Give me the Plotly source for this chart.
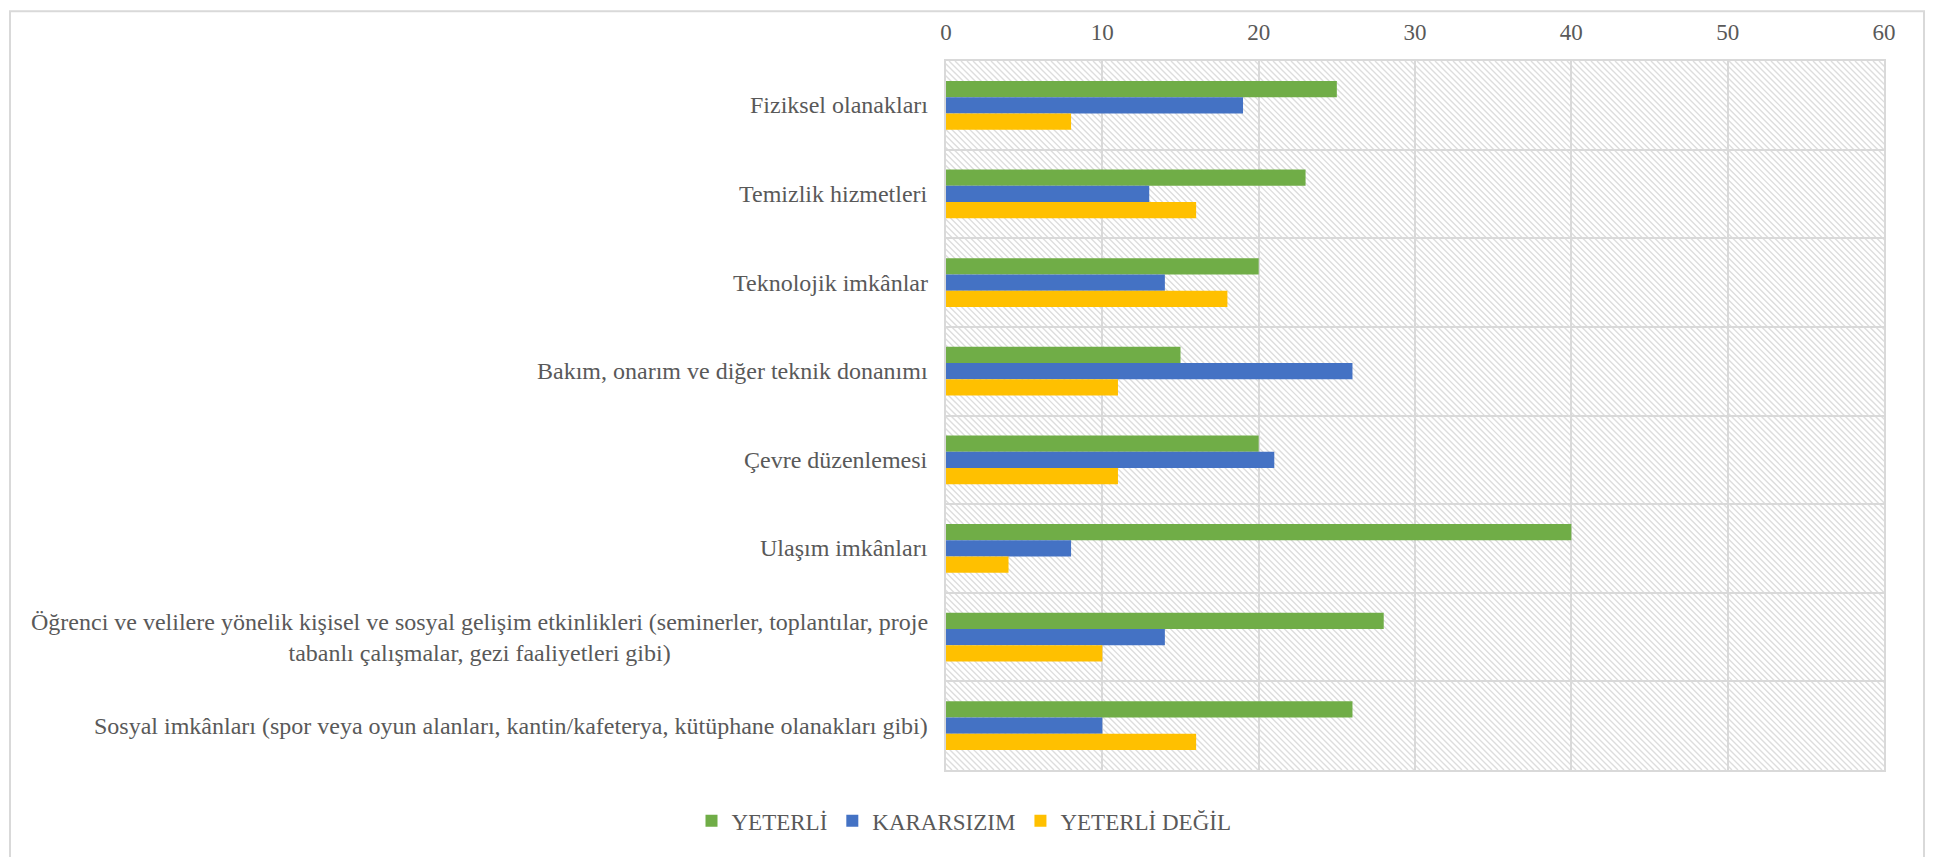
import base64
import plotly.graph_objects as go

# ---- data ----
categories = [
    "Fiziksel olanakları",
    "Temizlik hizmetleri",
    "Teknolojik imkânlar",
    "Bakım, onarım ve diğer teknik donanımı",
    "Çevre düzenlemesi",
    "Ulaşım imkânları",
    "Öğrenci ve velilere yönelik kişisel ve sosyal gelişim etkinlikleri (seminerler, toplantılar, proje<br>tabanlı çalışmalar, gezi faaliyetleri gibi)",
    "Sosyal imkânları (spor veya oyun alanları, kantin/kafeterya, kütüphane olanakları gibi)",
]
series_names = ["YETERLİ", "KARARSIZIM", "YETERLİ DEĞİL"]
yeterli = [25, 23, 20, 15, 20, 40, 28, 26]
kararsizim = [19, 13, 14, 26, 21, 8, 14, 10]
yeterli_degil = [8, 16, 18, 11, 11, 4, 10, 16]
x_ticks = [0, 10, 20, 30, 40, 50, 60]

colors = ["#70AD47", "#4472C4", "#FFC000"]
text_color = "#595959"
grid_color = "#D9D9D9"
FONT = "Liberation Serif, Times New Roman, serif"

# page body has an 8px margin; figure is sized so it ends at the window edge
W, H = 1936, 849
ML, MR, MT, MB = 938, 60, 51, 87
PW, PH = W - ML - MR, H - MT - MB

fig = go.Figure()
for name, vals, col in zip(series_names, [yeterli, kararsizim, yeterli_degil], colors):
    fig.add_trace(go.Bar(
        y=categories, x=vals, name=name, orientation="h",
        marker=dict(color=col, line=dict(width=0)),
    ))

# hatch background as an svg image beneath the grid
step = 6
lines = []
for k in range(-PH, PW + PH, step):
    lines.append(f'<line x1="{k}" y1="0" x2="{k + PH}" y2="{PH}"/>')
svg = (f'<svg xmlns="http://www.w3.org/2000/svg" width="{PW}" height="{PH}" viewBox="0 0 {PW} {PH}">'
       f'<rect width="{PW}" height="{PH}" fill="white"/>'
       f'<g stroke="#DDDDDD" stroke-width="1.4">' + "".join(lines) + '</g></svg>')
src = "data:image/svg+xml;base64," + base64.b64encode(svg.encode()).decode()
fig.add_layout_image(dict(
    source=src, xref="x domain", yref="y domain", x=0, y=1, sizex=1, sizey=1,
    xanchor="left", yanchor="top", sizing="stretch", layer="below",
))

# category labels (right-aligned block, centred lines)
for c in categories:
    fig.add_annotation(
        x=0, xref="paper", y=c, yref="y", xanchor="right", xshift=-16,
        text=c, showarrow=False, align="center",
        font=dict(family=FONT, size=24, color=text_color),
    )

# outer chart border (bottom edge lies beyond the visible page)
fig.add_shape(
    type="rect", xref="paper", yref="paper",
    x0=(2 - ML) / PW, x1=(1916 - ML) / PW,
    y0=(MT + PH - 870) / PH, y1=(MT + PH - 1) / PH,
    line=dict(color=grid_color, width=2), fillcolor="rgba(0,0,0,0)", layer="below",
)

fig.update_layout(
    width=W, height=H,
    margin=dict(l=ML, r=MR, t=MT, b=MB),
    paper_bgcolor="white", plot_bgcolor="rgba(0,0,0,0)",
    barmode="group", bargap=0.45, bargroupgap=0,
    font=dict(family=FONT, size=23, color=text_color),
    showlegend=True,
    legend=dict(
        orientation="h", x=(W / 2 - 12 - ML) / PW, xanchor="center",
        y=(MT + PH - 813) / PH, yanchor="middle",
        font=dict(family=FONT, size=23, color=text_color),
        traceorder="normal", itemclick=False, itemwidth=30,
    ),
    xaxis=dict(
        side="top", range=[0, 60], tickvals=x_ticks, ticktext=[str(v) for v in x_ticks],
        showgrid=True, gridcolor=grid_color, gridwidth=2,
        zeroline=False, showline=True, linecolor=grid_color, linewidth=2, mirror=True,
        ticks="", ticklabelstandoff=10,
        tickfont=dict(family=FONT, size=23, color=text_color),
    ),
    yaxis=dict(
        autorange="reversed", showticklabels=False, ticks="",
        tickson="boundaries", showgrid=True, gridcolor=grid_color, gridwidth=2,
        showline=True, linecolor=grid_color, linewidth=2, mirror=True, zeroline=False,
    ),
)

fig.write_html("out.html")
